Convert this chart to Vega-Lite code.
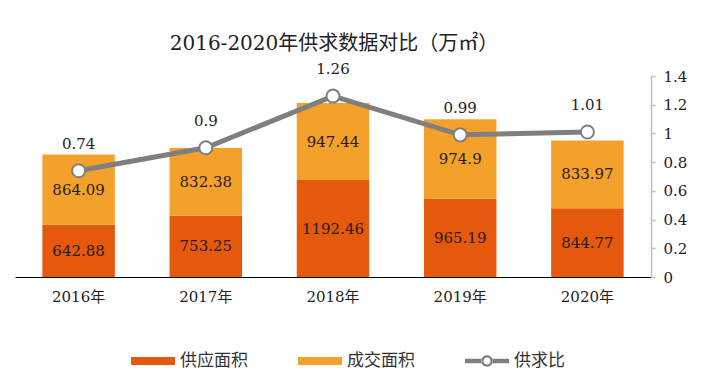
{
  "$schema": "https://vega.github.io/schema/vega-lite/v6.json",
  "autosize": {"type": "none"},
  "padding": {"left": 15, "top": 76, "right": 58, "bottom": 110},
  "width": 636,
  "height": 201,
  "background": "white",
  "config": {
    "view": {"stroke": null},
    "font": "DejaVu Serif, Noto Sans CJK SC",
    "axis": {"grid": false}
  },
  "title": {
    "text": "2016-2020年供求数据对比（万㎡）",
    "font": "DejaVu Serif, Noto Sans CJK SC",
    "fontSize": 20,
    "fontWeight": "normal",
    "color": "#222222",
    "offset": 8,
    "dx": 1
  },
  "datasets": {
    "bars": [
      {"year": "2016年", "series": "供应面积", "value": 642.88},
      {"year": "2016年", "series": "成交面积", "value": 864.09},
      {"year": "2017年", "series": "供应面积", "value": 753.25},
      {"year": "2017年", "series": "成交面积", "value": 832.38},
      {"year": "2018年", "series": "供应面积", "value": 1192.46},
      {"year": "2018年", "series": "成交面积", "value": 947.44},
      {"year": "2019年", "series": "供应面积", "value": 965.19},
      {"year": "2019年", "series": "成交面积", "value": 974.9},
      {"year": "2020年", "series": "供应面积", "value": 844.77},
      {"year": "2020年", "series": "成交面积", "value": 833.97}
    ],
    "ratio": [
      {"year": "2016年", "ratio": 0.74},
      {"year": "2017年", "ratio": 0.9},
      {"year": "2018年", "ratio": 1.26},
      {"year": "2019年", "ratio": 0.99},
      {"year": "2020年", "ratio": 1.01}
    ]
  },
  "encoding": {
    "x": {
      "field": "year",
      "type": "nominal",
      "scale": {"paddingInner": 0.43, "paddingOuter": 0.215},
      "axis": {
        "title": null,
        "labelAngle": 0,
        "labelFontSize": 15,
        "labelColor": "#222222",
        "labelPadding": 12,
        "ticks": false,
        "domainColor": "#000000",
        "domainWidth": 1.2
      }
    }
  },
  "layer": [
    {
      "data": {"name": "bars"},
      "transform": [
        {"stack": "value", "groupby": ["year"], "sort": [{"field": "series", "order": "ascending"}], "as": ["v0", "v1"]},
        {"calculate": "(datum.v0 + datum.v1) / 2", "as": "mid"}
      ],
      "layer": [
        {
          "mark": {"type": "bar"},
          "encoding": {
            "y": {"field": "v0", "type": "quantitative", "scale": {"domain": [0, 2472]}, "axis": null},
            "y2": {"field": "v1"},
            "color": {
              "field": "series",
              "type": "nominal",
              "scale": {"domain": ["供应面积", "成交面积", "供求比"], "range": ["#E4590B", "#F4A12C", "#7F7F7F"]},
              "legend": {
                "title": null,
                "orient": "none",
                "legendX": 116,
                "legendY": 263,
                "direction": "horizontal",
                "labelFontSize": 17,
                "labelColor": "#333333",
                "labelFont": "Noto Sans CJK SC",
                "symbolSize": 1936,
                "symbolType": "M-1,-0.18H1V0.18H-1Z",
                "labelOffset": 5,
                "columnPadding": 50,
                "encode": {
                  "symbols": {
                    "update": {
                      "shape": {"signal": "datum.value === '供求比' ? 'M-1,-0.1H-0.24V0.1H-1Z M0.24,-0.1H1V0.1H0.24Z M-0.26,0A0.26,0.26 0 1,0 0.26,0A0.26,0.26 0 1,0 -0.26,0Z M-0.16,0A0.16,0.16 0 1,1 0.16,0A0.16,0.16 0 1,1 -0.16,0Z' : 'M-1,-0.18H1V0.18H-1Z'"},
                      "fill": {"signal": "datum.value === '供应面积' ? '#E4590B' : datum.value === '成交面积' ? '#F4A12C' : '#7F7F7F'"},
                      "strokeWidth": {"value": 0},
                      "opacity": {"value": 1}
                    }
                  }
                }
              }
            }
          }
        },
        {
          "mark": {"type": "text", "fontSize": 15, "color": "#2a1a0e", "font": "DejaVu Serif"},
          "encoding": {
            "y": {"field": "mid", "type": "quantitative", "scale": {"domain": [0, 2472]}, "axis": null},
            "text": {"field": "value", "type": "quantitative"}
          }
        }
      ]
    },
    {
      "data": {"name": "ratio"},
      "encoding": {
        "y": {
          "field": "ratio",
          "type": "quantitative",
          "scale": {"domain": [0, 1.4]},
          "axis": {
            "orient": "right",
            "title": null,
            "values": [0, 0.2, 0.4, 0.6, 0.8, 1, 1.2, 1.4],
            "format": "~g",
            "labelOverlap": false,
            "labelFlush": false,
            "labelFontSize": 15,
            "labelColor": "#222222",
            "labelPadding": 8,
            "domainColor": "#BFBFBF",
            "domainWidth": 1.5,
            "tickColor": "#BFBFBF",
            "tickSize": 4,
            "tickWidth": 1.5
          }
        }
      },
      "layer": [
        {
          "mark": {"type": "line", "color": "#7F7F7F", "strokeWidth": 5}
        },
        {
          "mark": {"type": "point", "filled": true, "fill": "white", "stroke": "#7F7F7F", "strokeWidth": 2, "size": 170, "opacity": 1, "shape": "circle"}
        },
        {
          "mark": {"type": "text", "fontSize": 15, "color": "#222222", "dy": -27, "font": "DejaVu Serif"},
          "encoding": {
            "text": {"field": "ratio", "type": "quantitative"}
          }
        }
      ]
    }
  ],
  "resolve": {"scale": {"y": "independent"}}
}
